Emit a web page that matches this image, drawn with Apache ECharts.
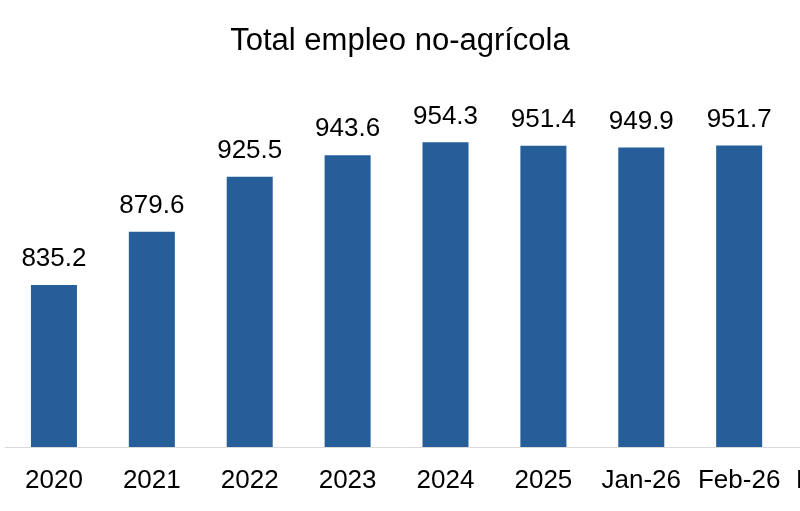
<!DOCTYPE html>
<html>
<head>
<meta charset="utf-8">
<script src="https://cdn.jsdelivr.net/npm/echarts@6/dist/echarts.min.js"></script>
<style>html,body{margin:0;padding:0;background:#fff;}#c{width:800px;height:511px;}</style>
</head>
<body>
<div id="c"></div>
<script>
const title = 'Total empleo no-agrícola';
const categories = ['2020', '2021', '2022', '2023', '2024', '2025', 'Jan-26', 'Feb-26', 'Mar-26'];
const values = [835.2, 879.6, 925.5, 943.6, 954.3, 951.4, 949.9, 951.7, null];

const chart = echarts.init(document.getElementById('c'), null, {renderer: 'canvas'});
chart.setOption({
  animation: false,
  backgroundColor: '#ffffff',
  title: {
    text: title,
    left: 'center',
    top: 21,
    textStyle: {fontFamily: 'Liberation Sans, Arial, sans-serif', fontSize: 31, fontWeight: 'normal', color: '#000'}
  },
  grid: {left: 5, width: 881, top: 87.6, bottom: 64, containLabel: false, outerBoundsMode: 'none'},
  xAxis: {
    type: 'category',
    data: categories,
    axisLine: {show: true, lineStyle: {color: '#d9d9d9', width: 1}},
    axisTick: {show: false},
    axisLabel: {interval: 0, margin: 21, hideOverlap: false, fontFamily: 'Liberation Sans, Arial, sans-serif', fontSize: 26, color: '#000'}
  },
  yAxis: {
    type: 'value',
    min: 700,
    max: 1000,
    show: false,
    splitLine: {show: false}
  },
  series: [{
    type: 'bar',
    data: values,
    barWidth: '47%',
    itemStyle: {color: '#255e99'},
    label: {
      show: true,
      position: 'top',
      distance: 13,
      fontFamily: 'Liberation Sans, Arial, sans-serif',
      fontSize: 26,
      color: '#000',
      formatter: p => p.value == null ? '' : p.value.toFixed(1)
    }
  }]
});
</script>
</body>
</html>
